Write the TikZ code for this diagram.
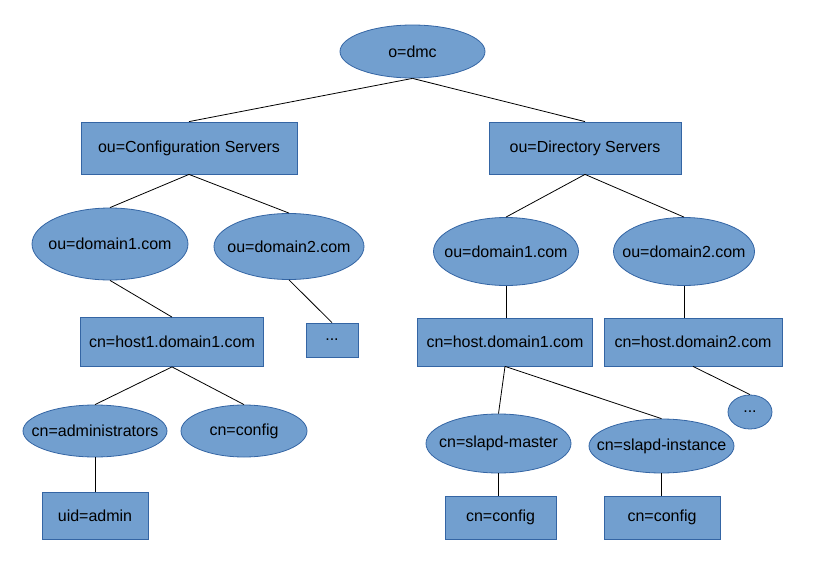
\documentclass[tikz,border=0pt]{standalone}
\usepackage{fontspec}
\setmainfont{Liberation Sans}
\usetikzlibrary{shapes.geometric}
\definecolor{nodefill}{HTML}{729FCF}
\definecolor{nodeline}{HTML}{3465A4}
\tikzset{
    every node/.style={inner sep=0mm, draw=nodeline, fill=nodefill, line width=0.8pt, font=\fontsize{16}{19}\selectfont}
}
\tikzset{box/.style={rectangle}}
\tikzset{oval/.style={ellipse, inner xsep=-40pt}}

\begin{document}
\begin{tikzpicture}[x=1pt, y=-1pt, line width=0.8pt]
  \useasboundingbox (0,0) rectangle (815,570);
  \node (dmc) [oval, minimum width=145, minimum height=53] at (412.5,51.5) {o=dmc};
  \node (cfg) [box, minimum width=216, minimum height=52] at (189,148) {ou=Configuration Servers};
  \node (dir) [box, minimum width=192, minimum height=52] at (585,148) {ou=Directory Servers};

  \node (cd1) [oval, minimum width=156, minimum height=72] at (110,244) {ou=domain1.com};
  \node (cd2) [oval, minimum width=150, minimum height=66] at (289,246.5) {ou=domain2.com};
  \node (dd1) [oval, minimum width=145, minimum height=68] at (506,251.5) {ou=domain1.com};
  \node (dd2) [oval, minimum width=141, minimum height=68] at (684,251.5) {ou=domain2.com};

  \node (ch1) [box, minimum width=183, minimum height=49] at (172,342) {cn=host1.domain1.com};
  \node (cx) [box, minimum width=52, minimum height=34] at (332,340) {...};
  \node (dh1) [box, minimum width=175, minimum height=48] at (505,342) {cn=host.domain1.com};
  \node (dh2) [box, minimum width=178, minimum height=48] at (693,342) {cn=host.domain2.com};
  \node (dx) [oval, minimum width=44, minimum height=34] at (750,412) {...};

  \node (adm) [oval, minimum width=144, minimum height=52] at (95,431) {cn=administrators};
  \node (ccf) [oval, minimum width=126, minimum height=52] at (244,431) {cn=config};
  \node (uid) [box, minimum width=106, minimum height=47] at (95,515.5) {uid=admin};

  \node (mst) [oval, minimum width=145, minimum height=59] at (498.5,443.5) {cn=slapd-master};
  \node (ins) [oval, minimum width=145, minimum height=54] at (661.5,446) {cn=slapd-instance};
  \node (mcf) [box, minimum width=111, minimum height=43] at (500.5,517.5) {cn=config};
  \node (icf) [box, minimum width=116, minimum height=43] at (662,517.5) {cn=config};

  \draw (dmc.south) -- (cfg.north);
  \draw (dmc.south) -- (dir.north);
  \draw (cfg.south) -- (cd1.north);
  \draw (cfg.south) -- (cd2.north);
  \draw (dir.south) -- (dd1.north);
  \draw (dir.south) -- (dd2.north);
  \draw (cd1.south) -- (ch1.north);
  \draw (cd2.south) -- (cx.north);
  \draw (dd1.south) -- (dd1.south |- dh1.north);
  \draw (dd2.south) -- (dd2.south |- dh2.north);
  \draw (dh2.south) -- (dx.north);
  \draw (ch1.south) -- (adm.north);
  \draw (ch1.south) -- (ccf.north);
  \draw (adm.south) -- (adm.south |- uid.north);
  \draw (dh1.south) -- (mst.north);
  \draw (dh1.south) -- (ins.north);
  \draw (mst.south) -- (mst.south |- mcf.north);
  \draw (ins.south) -- (ins.south |- icf.north);
\end{tikzpicture}
\end{document}
